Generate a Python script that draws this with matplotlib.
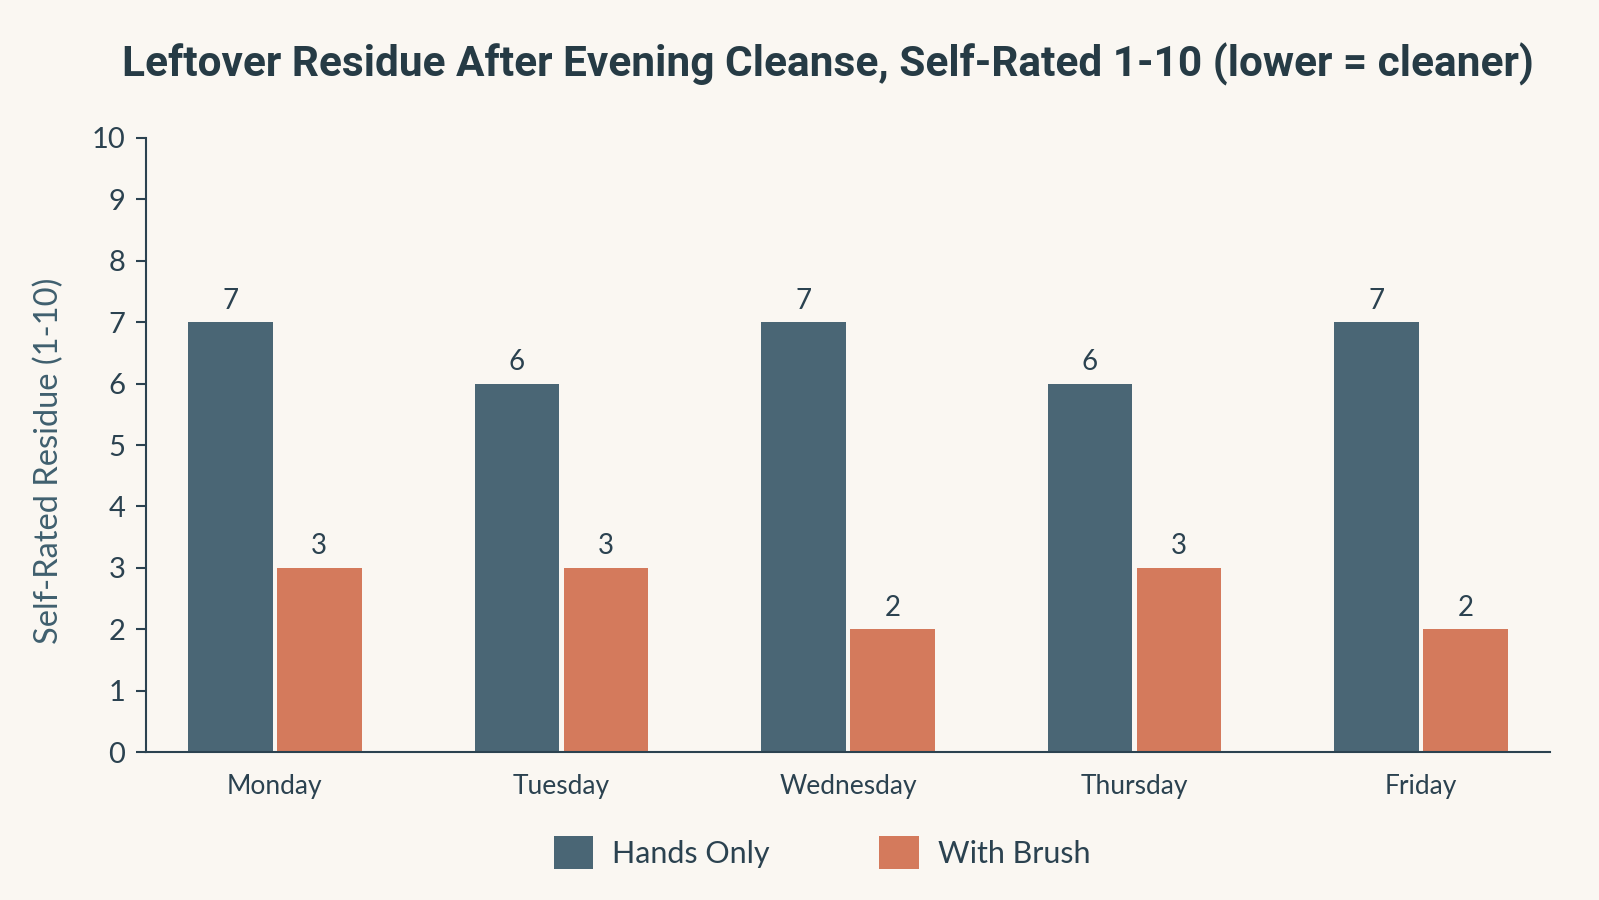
import matplotlib
matplotlib.use("Agg")
import matplotlib.pyplot as plt
import numpy as np

# data
days = ["Monday", "Tuesday", "Wednesday", "Thursday", "Friday"]
hands_only = [7, 6, 7, 6, 7]
with_brush = [3, 3, 2, 3, 2]
series_names = ["Hands Only", "With Brush"]

bg = "#FAF7F2"
c_hands = "#4A6675"
c_brush = "#D47A5C"
ink = "#2B4250"

plt.rcParams["font.family"] = ["Lato", "DejaVu Sans"]

fig = plt.figure(figsize=(15.99, 9), dpi=100, facecolor=bg)
ax = fig.add_axes([0.0913, 0.1644, 0.878, 0.6823])
ax.set_facecolor(bg)

x = np.arange(len(days))
w = 0.295
b1 = ax.bar(x - 0.155, hands_only, w, color=c_hands, label=series_names[0])
b2 = ax.bar(x + 0.155, with_brush, w, color=c_brush, label=series_names[1])

# value labels
for bars in (b1, b2):
    for r in bars:
        ax.annotate(f"{r.get_height():g}", (r.get_x() + r.get_width() / 2, r.get_height()),
                    xytext=(0, 6), textcoords="offset points", ha="center", va="bottom",
                    fontsize=20, color=ink)

ax.set_xlim(-0.45, 4.45)
ax.set_ylim(0, 10)
ax.set_yticks(range(0, 11))
ax.set_xticks(x)
ax.set_xticklabels(days)
ax.tick_params(axis="x", length=0, pad=16, labelsize=19, labelcolor=ink)
ax.tick_params(axis="y", length=7, width=1.5, color=ink, pad=8, labelsize=21, labelcolor=ink)

for s in ("top", "right"):
    ax.spines[s].set_visible(False)
for s in ("left", "bottom"):
    ax.spines[s].set_color(ink)
    ax.spines[s].set_linewidth(1.5)

ax.set_ylabel("Self-Rated Residue (1-10)", fontsize=23.5, color="#3F5F6E")
ax.yaxis.set_label_coords(-0.058, 0.474)

fig.suptitle("Leftover Residue After Evening Cleanse, Self-Rated 1-10 (lower = cleaner)",
             x=0.518, y=0.952, fontsize=30.5, fontweight="bold", color="#263B45",
             family=["Roboto", "DejaVu Sans"])

fig.legend(handles=[b1, b2], labels=series_names, loc="center", bbox_to_anchor=(0.514, 0.053),
           ncol=2, frameon=False, fontsize=22, handlelength=1.3, handleheight=1.3,
           handletextpad=0.6, columnspacing=3.6, labelcolor=ink)

fig.savefig("out.png", dpi=100, facecolor=bg)
